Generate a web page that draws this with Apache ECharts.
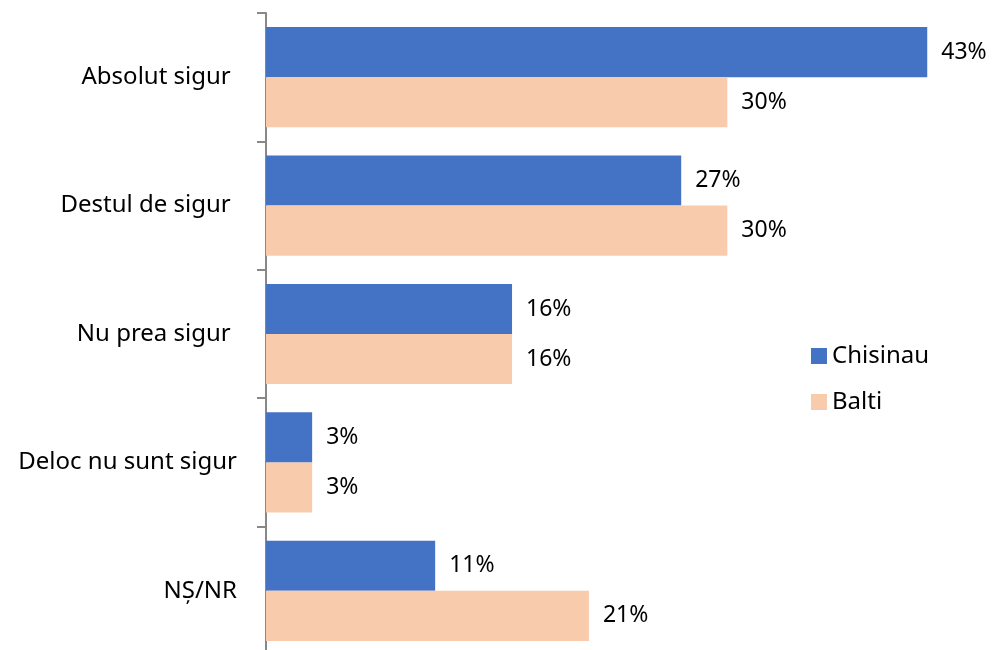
<!DOCTYPE html>
<html>
<head>
<meta charset="utf-8">
<script src="https://cdn.jsdelivr.net/npm/echarts@6/dist/echarts.min.js"></script>
<style>
  html, body { margin: 0; padding: 0; background: #fff; }
  #chart { width: 995px; height: 650px; }
</style>
</head>
<body>
<div id="chart"></div>
<script>
// categories (top to bottom)
var categories = ['Absolut sigur ', 'Destul de sigur ', 'Nu prea sigur ', 'Deloc nu sunt sigur', 'NȘ/NR'];
var chisinau = [43, 27, 16, 3, 11];
var balti = [30, 30, 16, 3, 21];

var chart = echarts.init(document.getElementById('chart'));
var font = 'Noto Sans';

var labelCfg = {
  show: true,
  position: 'right',
  distance: 14,
  color: '#000',
  fontFamily: font,
  fontSize: 23,
  formatter: '{c}%'
};

var option = {
  backgroundColor: '#fff',
  animation: false,
  grid: { left: 266, top: 13, width: 692, height: 642, outerBoundsMode: 'none', containLabel: false },
  legend: {
    orient: 'vertical',
    left: 806,
    top: 339,
    itemWidth: 16,
    itemHeight: 16,
    itemGap: 22,
    icon: 'rect',
    textStyle: { fontFamily: font, fontSize: 24, color: '#000' },
    data: ['Chisinau', 'Balti']
  },
  xAxis: {
    type: 'value',
    min: 0,
    max: 45,
    show: false
  },
  yAxis: {
    type: 'category',
    inverse: true,
    data: categories,
    axisLine: { lineStyle: { color: '#888', width: 2 } },
    axisTick: { show: true, length: 9, lineStyle: { color: '#888', width: 2 } },
    axisLabel: { margin: 29, color: '#000', fontFamily: font, fontSize: 24 }
  },
  series: [
    {
      name: 'Chisinau',
      type: 'bar',
      data: chisinau,
      barGap: '0%',
      barCategoryGap: '22%',
      itemStyle: { color: '#4472C4' },
      label: labelCfg
    },
    {
      name: 'Balti',
      type: 'bar',
      data: balti,
      itemStyle: { color: '#F8CBAD' },
      label: labelCfg
    }
  ]
};

chart.setOption(option);
</script>
</body>
</html>
